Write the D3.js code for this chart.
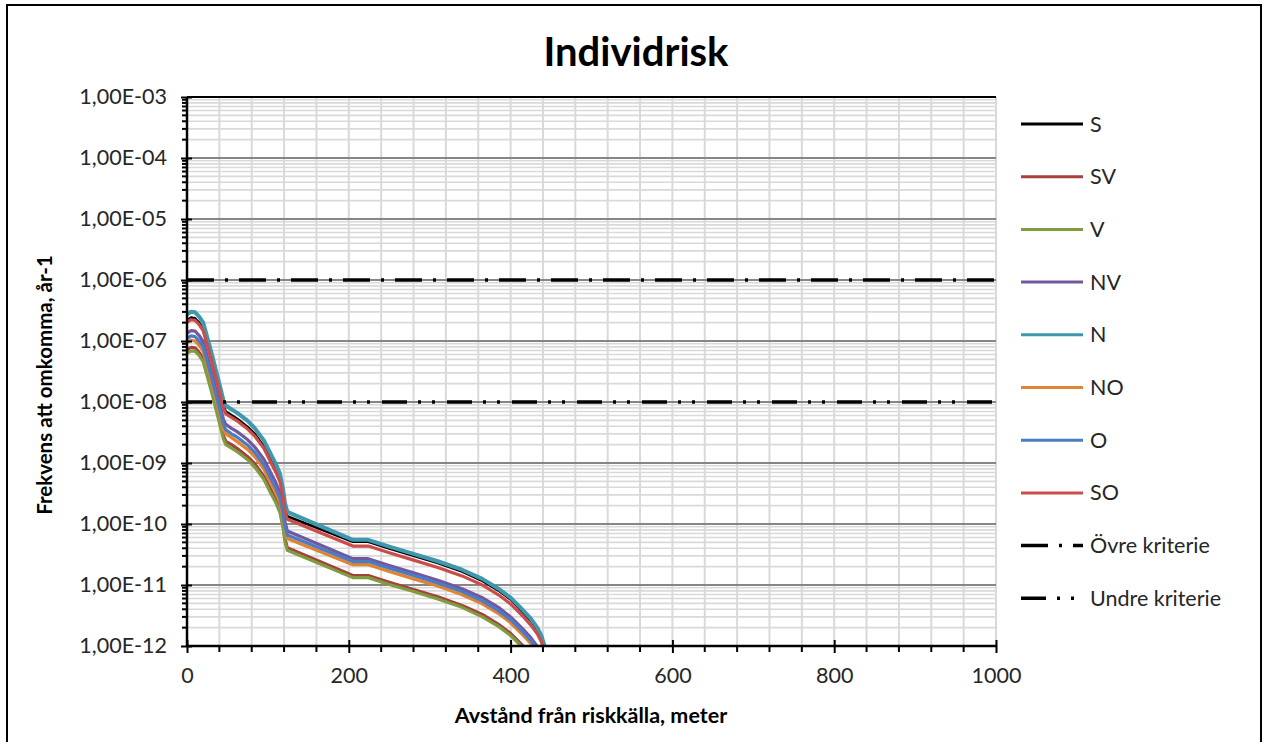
<!DOCTYPE html>
<html>
<head>
<meta charset="utf-8">
<script src="https://cdn.jsdelivr.net/npm/d3@7"></script>
<style>
  body { margin: 0; background: #fff; }
  svg { font-family: Lato, "Open Sans", sans-serif; }
</style>
</head>
<body>
<svg width="1265" height="742"></svg>
<script>
// distances in meters
var distance = [0, 5, 10, 15, 20, 30, 40, 45, 48, 55, 63, 75, 84, 95, 103, 110, 115, 119, 121, 124,
                205, 224, 250, 280, 310, 340, 365, 385, 400, 415, 425, 433, 438, 442, 446];

var S  = [2.2e-7, 2.42e-7, 2.36e-7, 2.0e-7, 1.6e-7, 5.3e-8, 1.6e-8, 8.6e-9, 7.0e-9, 6.1e-9, 5.2e-9, 3.9e-9, 3.0e-9, 1.88e-9, 1.16e-9, 7.6e-10, 5.3e-10, 2.84e-10, 1.8e-10, 1.34e-10,
          5.1e-11, 5.1e-11, 3.97e-11, 3.01e-11, 2.28e-11, 1.66e-11, 1.17e-11, 8.1e-12, 5.8e-12, 3.6e-12, 2.6e-12, 1.86e-12, 1.38e-12, 9.3e-13, 5.9e-13];
var SV = [7.2e-8, 7.9e-8, 7.7e-8, 6.5e-8, 5.2e-8, 1.72e-8, 5.2e-9, 2.8e-9, 2.26e-9, 2.0e-9, 1.69e-9, 1.27e-9, 9.6e-10, 6.1e-10, 3.8e-10, 2.47e-10, 1.72e-10, 9.2e-11, 5.8e-11, 4.1e-11,
          1.43e-11, 1.43e-11, 1.11e-11, 8.4e-12, 6.4e-12, 4.6e-12, 3.3e-12, 2.26e-12, 1.61e-12, 1.01e-12, 7.3e-13, 5.2e-13, 3.8e-13, 2.6e-13, 1.6e-13];
var V  = [6.3e-8, 6.9e-8, 6.8e-8, 5.8e-8, 4.6e-8, 1.52e-8, 4.6e-9, 2.46e-9, 2.0e-9, 1.75e-9, 1.5e-9, 1.13e-9, 8.5e-10, 5.4e-10, 3.3e-10, 2.2e-10, 1.52e-10, 8.2e-11, 5.2e-11, 3.7e-11,
          1.32e-11, 1.32e-11, 1.02e-11, 7.8e-12, 5.9e-12, 4.3e-12, 3.0e-12, 2.1e-12, 1.49e-12, 9.4e-13, 6.7e-13, 4.8e-13, 3.6e-13, 2.4e-13, 1.5e-13];
var NV = [1.35e-7, 1.48e-7, 1.45e-7, 1.23e-7, 9.8e-8, 3.2e-8, 9.8e-9, 5.2e-9, 4.3e-9, 3.7e-9, 3.2e-9, 2.4e-9, 1.81e-9, 1.15e-9, 7.1e-10, 4.7e-10, 3.2e-10, 1.74e-10, 1.1e-10, 7.7e-11,
          2.7e-11, 2.7e-11, 2.09e-11, 1.59e-11, 1.2e-11, 8.7e-12, 6.2e-12, 4.3e-12, 3.0e-12, 1.91e-12, 1.37e-12, 9.8e-13, 7.3e-13, 4.9e-13, 3.1e-13];
var N  = [2.75e-7, 3.02e-7, 2.95e-7, 2.51e-7, 2.0e-7, 6.6e-8, 2.0e-8, 1.07e-8, 8.7e-9, 7.6e-9, 6.5e-9, 4.9e-9, 3.7e-9, 2.35e-9, 1.45e-9, 9.5e-10, 6.6e-10, 3.55e-10, 2.24e-10, 1.58e-10,
          5.5e-11, 5.5e-11, 4.27e-11, 3.24e-11, 2.45e-11, 1.78e-11, 1.26e-11, 8.7e-12, 6.2e-12, 3.9e-12, 2.8e-12, 2.0e-12, 1.48e-12, 1.0e-12, 6.3e-13];
var NO = [9.4e-8, 1.03e-7, 1.0e-7, 8.5e-8, 6.8e-8, 2.24e-8, 6.8e-9, 3.6e-9, 3.0e-9, 2.6e-9, 2.2e-9, 1.67e-9, 1.26e-9, 8.0e-10, 4.9e-10, 3.2e-10, 2.24e-10, 1.21e-10, 7.6e-11, 5.8e-11,
          2.15e-11, 2.15e-11, 1.67e-11, 1.26e-11, 9.6e-12, 6.9e-12, 4.9e-12, 3.4e-12, 2.4e-12, 1.52e-12, 1.09e-12, 7.8e-13, 5.8e-13, 3.9e-13, 2.5e-13];
var O  = [1.1e-7, 1.21e-7, 1.18e-7, 1.0e-7, 8.0e-8, 2.64e-8, 8.0e-9, 4.3e-9, 3.5e-9, 3.0e-9, 2.6e-9, 1.96e-9, 1.48e-9, 9.4e-10, 5.8e-10, 3.8e-10, 2.64e-10, 1.42e-10, 9.0e-11, 6.6e-11,
          2.42e-11, 2.42e-11, 1.88e-11, 1.43e-11, 1.08e-11, 7.8e-12, 5.5e-12, 3.8e-12, 2.7e-12, 1.72e-12, 1.23e-12, 8.8e-13, 6.5e-13, 4.4e-13, 2.8e-13];
var SO = [2.04e-7, 2.23e-7, 2.18e-7, 1.86e-7, 1.48e-7, 4.9e-8, 1.48e-8, 7.9e-9, 6.4e-9, 5.6e-9, 4.8e-9, 3.6e-9, 2.74e-9, 1.74e-9, 1.07e-9, 7.0e-10, 4.9e-10, 2.63e-10, 1.66e-10, 1.2e-10,
          4.35e-11, 4.35e-11, 3.37e-11, 2.56e-11, 1.94e-11, 1.41e-11, 1.0e-11, 6.9e-12, 4.9e-12, 3.1e-12, 2.2e-12, 1.58e-12, 1.17e-12, 7.9e-13, 5.0e-13];

var seriesNames = ["S", "SV", "V", "NV", "N", "NO", "O", "SO"];
var seriesValues = [S, SV, V, NV, N, NO, O, SO];
var seriesColors = ["#000000", "#a5403d", "#7f9c3e", "#7158a0", "#3f98ad", "#e3822f", "#4a7cc4", "#cc4c4a"];

// criteria
var criteriaNames = ["Övre kriterie", "Undre kriterie"];
var criteriaValues = [1e-6, 1e-8];
var criteriaDistance = [0, 1000];
var criteriaDash = ["27,11,3,11", "25,11,3,11,3,12"];

var xTicks = [0, 200, 400, 600, 800, 1000];
var xTickLabels = ["0", "200", "400", "600", "800", "1000"];
var yTicks = [1e-12, 1e-11, 1e-10, 1e-9, 1e-8, 1e-7, 1e-6, 1e-5, 1e-4, 1e-3];
var yTickLabels = ["1,00E-12", "1,00E-11", "1,00E-10", "1,00E-09", "1,00E-08", "1,00E-07", "1,00E-06", "1,00E-05", "1,00E-04", "1,00E-03"];

var svg = d3.select("svg"),
    pLeft = 187, pRight = 996, pTop = 97, pBottom = 646;

var x = d3.scaleLinear().domain([0, 1000]).range([pLeft, pRight]);
var y = d3.scaleLog().domain([1e-12, 1e-3]).range([pBottom, pTop]);

svg.append("rect").attr("x", 7).attr("y", 5).attr("width", 1254).attr("height", 745)
  .attr("fill", "#fff").attr("stroke", "#000").attr("stroke-width", 2);

// minor grid
var minorY = [];
yTicks.slice(0, -1).forEach(function(d) {
  for (var m = 2; m <= 9; m++) minorY.push(d * m);
});
var minorX = d3.range(40, 1001, 40);

var grid = svg.append("g");
grid.selectAll(".vx").data(minorX).enter().append("line")
  .attr("x1", function(d) { return x(d); }).attr("x2", function(d) { return x(d); })
  .attr("y1", pTop).attr("y2", pBottom)
  .attr("stroke", "#d9d9d9").attr("stroke-width", 2);
grid.selectAll(".hy").data(minorY).enter().append("line")
  .attr("x1", pLeft).attr("x2", pRight)
  .attr("y1", function(d) { return y(d); }).attr("y2", function(d) { return y(d); })
  .attr("stroke", "#d9d9d9").attr("stroke-width", 1.6);
grid.selectAll(".my").data(yTicks.slice(1)).enter().append("line")
  .attr("x1", pLeft).attr("x2", pRight)
  .attr("y1", function(d) { return y(d); }).attr("y2", function(d) { return y(d); })
  .attr("stroke", function(d) { return d === 1e-3 ? "#000" : "#868686"; })
  .attr("stroke-width", 2);

// series
svg.append("clipPath").attr("id", "clip").append("rect")
  .attr("x", pLeft).attr("y", pTop).attr("width", pRight - pLeft).attr("height", pBottom - pTop);

var line = d3.line()
  .x(function(d) { return x(d[0]); })
  .y(function(d) { return y(d[1]); });

var plot = svg.append("g").attr("clip-path", "url(#clip)");
seriesValues.forEach(function(vals, i) {
  plot.append("path")
    .datum(d3.zip(distance, vals))
    .attr("d", line)
    .attr("fill", "none")
    .attr("stroke", seriesColors[i])
    .attr("stroke-width", seriesNames[i] === "N" ? 4 : (seriesNames[i] === "S" ? 2.5 : 3.2))
    .attr("stroke-linejoin", "round");
});

criteriaValues.forEach(function(v, i) {
  plot.append("path")
    .datum(criteriaDistance.map(function(d) { return [d, v]; }))
    .attr("d", line)
    .attr("fill", "none")
    .attr("stroke", "#000")
    .attr("stroke-width", 3.5)
    .attr("stroke-dasharray", criteriaDash[i]);
});

// axes
var yAxis = svg.append("g").attr("transform", "translate(" + pLeft + ",0)")
  .call(d3.axisLeft(y).tickValues(yTicks).tickSize(6).tickPadding(14)
    .tickFormat(function(d, i) { return yTickLabels[i]; }));
yAxis.selectAll(".tick line").attr("x2", -6).attr("x1", 5);
yAxis.selectAll(".minor").data(minorY).enter().append("line")
  .attr("x1", -5).attr("x2", 0)
  .attr("y1", function(d) { return y(d); }).attr("y2", function(d) { return y(d); })
  .attr("stroke", "#000").attr("stroke-width", 2);

var xAxis = svg.append("g").attr("transform", "translate(0," + pBottom + ")")
  .call(d3.axisBottom(x).tickValues(xTicks).tickSize(6).tickPadding(16)
    .tickFormat(function(d, i) { return xTickLabels[i]; }));
xAxis.selectAll(".tick line").attr("y1", -6).attr("y2", 7);
xAxis.selectAll(".minor").data(minorX.filter(function(d) { return d % 200; })).enter().append("line")
  .attr("x1", function(d) { return x(d); }).attr("x2", function(d) { return x(d); })
  .attr("y1", 0).attr("y2", 6)
  .attr("stroke", "#000").attr("stroke-width", 2);

[yAxis, xAxis].forEach(function(a) {
  a.select(".domain").attr("stroke", "#000").attr("stroke-width", 2.5);
  a.selectAll(".tick line").attr("stroke", "#000").attr("stroke-width", 2);
  a.selectAll("text").attr("font-family", "Lato, sans-serif").attr("font-size", 21.5).attr("fill", "#262626");
});
yAxis.select(".domain").attr("d", "M0," + pTop + "V" + pBottom);
xAxis.select(".domain").attr("d", "M" + pLeft + ",0H" + pRight);

// titles
svg.append("text").attr("x", 636).attr("y", 66).attr("text-anchor", "middle")
  .attr("font-size", 40).attr("font-weight", "bold").attr("fill", "#000").text("Individrisk");
svg.append("text").attr("x", 591).attr("y", 723).attr("text-anchor", "middle")
  .attr("font-size", 21.5).attr("font-weight", "bold").attr("fill", "#000").text("Avstånd från riskkälla, meter");
svg.append("text").attr("transform", "translate(52,385) rotate(-90)").attr("text-anchor", "middle")
  .attr("font-size", 20.5).attr("font-weight", "bold").attr("fill", "#000").text("Frekvens att omkomma, år-1");

// legend
var legendNames = seriesNames.concat(criteriaNames);
var legend = svg.append("g").attr("transform", "translate(1021,124)");
legendNames.forEach(function(name, i) {
  var row = legend.append("g").attr("transform", "translate(0," + (i * 52.7) + ")");
  var crit = i >= seriesNames.length;
  row.append("line").attr("x1", 0).attr("x2", 62).attr("y1", 0).attr("y2", 0)
    .attr("stroke", crit ? "#000" : seriesColors[i])
    .attr("stroke-width", crit ? 3.5 : 3)
    .attr("stroke-dasharray", crit ? criteriaDash[i - seriesNames.length] : null);
  row.append("text").attr("x", 69).attr("y", 0).attr("dy", "0.35em")
    .attr("font-size", 21.5).attr("fill", "#262626").text(name);
});
</script>
</body>
</html>
